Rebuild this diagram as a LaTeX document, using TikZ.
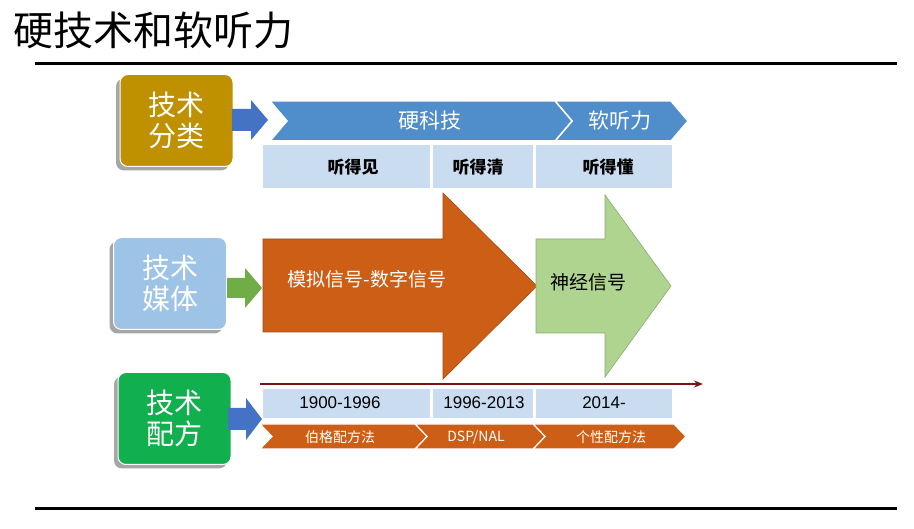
\documentclass[tikz,border=0pt]{standalone}
\usepackage{fontspec}
\setmainfont{Noto Sans CJK SC}
\newfontfamily\latinfont{Liberation Sans}
\usetikzlibrary{shadows,arrows.meta}
\definecolor{gold}{HTML}{BF9000}
\definecolor{chevblue}{HTML}{4F8DCB}
\definecolor{cellblue}{HTML}{CADDF0}
\definecolor{medblue}{HTML}{9DC3E6}
\definecolor{boxgreen}{HTML}{12AF4F}
\definecolor{arrgreen}{HTML}{70AD47}
\definecolor{arrblue}{HTML}{4472C4}
\definecolor{rust}{HTML}{CD5E15}
\definecolor{lightgreen}{HTML}{AED48F}
\definecolor{darkred}{HTML}{7B1416}
\tikzset{
  catbox/.style={rounded corners=8pt, draw=white, line width=1pt, text=white, align=center,
    minimum width=113pt, minimum height=92pt, inner sep=0pt,
    font=\fontsize{28}{31}\selectfont,
    drop shadow={shadow xshift=-4pt, shadow yshift=-4pt, opacity=0.35, fill=black}},
  cell/.style={fill=cellblue, anchor=north west, inner sep=0pt},
  celltext/.style={font=\fontsize{17}{17}\selectfont\bfseries, text=black},
  yeartext/.style={font=\latinfont\fontsize{17}{17}\selectfont, text=black},
  chevtop/.style={fill=chevblue, draw=white, line width=1.5pt},
  chevbot/.style={fill=rust, draw=white, line width=1.2pt},
  smallarrow/.style={line width=0.6pt},
  bigtext/.style={font=\fontsize{19}{19}\selectfont}
}
\begin{document}
\begin{tikzpicture}[x=1pt,y=-1pt]
\useasboundingbox (0,0) rectangle (914,529);
\fill[white] (0,0) rectangle (914,529);

% title and rules
\node[anchor=west, font=\fontsize{40}{40}\selectfont, inner sep=0pt] (title) at (13,30) {硬技术和软听力};
\coordinate (r1a) at (35,64); \coordinate (r1b) at (897,64);
\coordinate (r2a) at (35,509); \coordinate (r2b) at (897,509);
\draw[line width=3pt] (r1a) -- (r1b);
\draw[line width=3pt] (r2a) -- (r2b);

% left boxes
\node[catbox, fill=gold] (cat) at (176.5,120.5) {技术\\分类};
\node[catbox, fill=medblue] (media) at (170,283.5) {技术\\媒体};
\node[catbox, fill=boxgreen] (recipe) at (174.5,418.5) {技术\\配方};

% small arrows
\fill[arrblue, smallarrow] (232,109) -- (251,109) -- (251,100) -- (268,120) -- (251,140) -- (251,131) -- (232,131) -- cycle;
\fill[arrgreen, smallarrow] (227,278) -- (245,278) -- (245,268) -- (262,288) -- (245,308) -- (245,298) -- (227,298) -- cycle;
\fill[arrblue, smallarrow] (228,408) -- (246,408) -- (246,398) -- (262,419) -- (246,440) -- (246,430) -- (228,430) -- cycle;

% top chevrons
\path[chevtop] (555,101) -- (671,101) -- (688,121) -- (671,141) -- (555,141) -- (572,121) -- cycle;
\path[chevtop] (270,101) -- (555,101) -- (572,121) -- (555,141) -- (270,141) -- (287,121) -- cycle;
\node[font=\fontsize{21}{21}\selectfont, text=white] (hard) at (430,121) {硬科技};
\node[font=\fontsize{21}{21}\selectfont, text=white] (soft) at (620,121) {软听力};

% cells row 1
\node[cell, minimum width=167pt, minimum height=43pt] (c1) at (263,145) {};
\node[cell, minimum width=100pt, minimum height=43pt] (c2) at (433,145) {};
\node[cell, minimum width=136pt, minimum height=43pt] (c3) at (536,145) {};
\node[celltext] (t1) at (353,167) {听得见};
\node[celltext] (t2) at (478,167) {听得清};
\node[celltext] (t3) at (608,167) {听得懂};

% big arrows
\path[fill=rust, draw=rust!80!black, line width=0.6pt] (263,239) -- (443,239) -- (443,193) -- (537,286) -- (443,379) -- (443,332) -- (263,332) -- cycle;
\path[fill=lightgreen, draw=lightgreen!80!black, line width=0.6pt] (536,239) -- (605,239) -- (605,195) -- (671,286) -- (605,377) -- (605,333) -- (536,333) -- cycle;
\node[bigtext, text=white, anchor=west] (analog) at (284,279) {模拟信号-数字信号};
\node[bigtext, text=black, anchor=west] (neural) at (547,282) {神经信号};

% timeline
\coordinate (tl0) at (260,384); \coordinate (tl1) at (703,384);
\draw[darkred, line width=2pt, -{Stealth[length=9pt,width=7pt]}] (tl0) -- (tl1);

% cells row 3
\node[cell, minimum width=167pt, minimum height=29pt] (d1) at (263,389) {};
\node[cell, minimum width=100pt, minimum height=29pt] (d2) at (433,389) {};
\node[cell, minimum width=136pt, minimum height=29pt] (d3) at (536,389) {};
\node[yeartext] (y1) at (340,403) {1900-1996};
\node[yeartext] (y2) at (484,403) {1996-2013};
\node[yeartext] (y3) at (604,403) {2014-};

% bottom chevrons
\path[chevbot] (533,424) -- (674,424) -- (686,436.5) -- (674,449) -- (533,449) -- (545,436.5) -- cycle;
\path[chevbot] (415,424) -- (533,424) -- (545,436.5) -- (533,449) -- (415,449) -- (427,436.5) -- cycle;
\path[chevbot] (260,424) -- (415,424) -- (427,436.5) -- (415,449) -- (260,449) -- (272,436.5) -- cycle;
\node[font=\fontsize{14}{14}\selectfont, text=white] (m1) at (340,437) {伯格配方法};
\node[font=\fontsize{14}{14}\selectfont, text=white] (m2) at (476,437) {DSP/NAL};
\node[font=\fontsize{14}{14}\selectfont, text=white] (m3) at (611,437) {个性配方法};
\end{tikzpicture}
\end{document}
